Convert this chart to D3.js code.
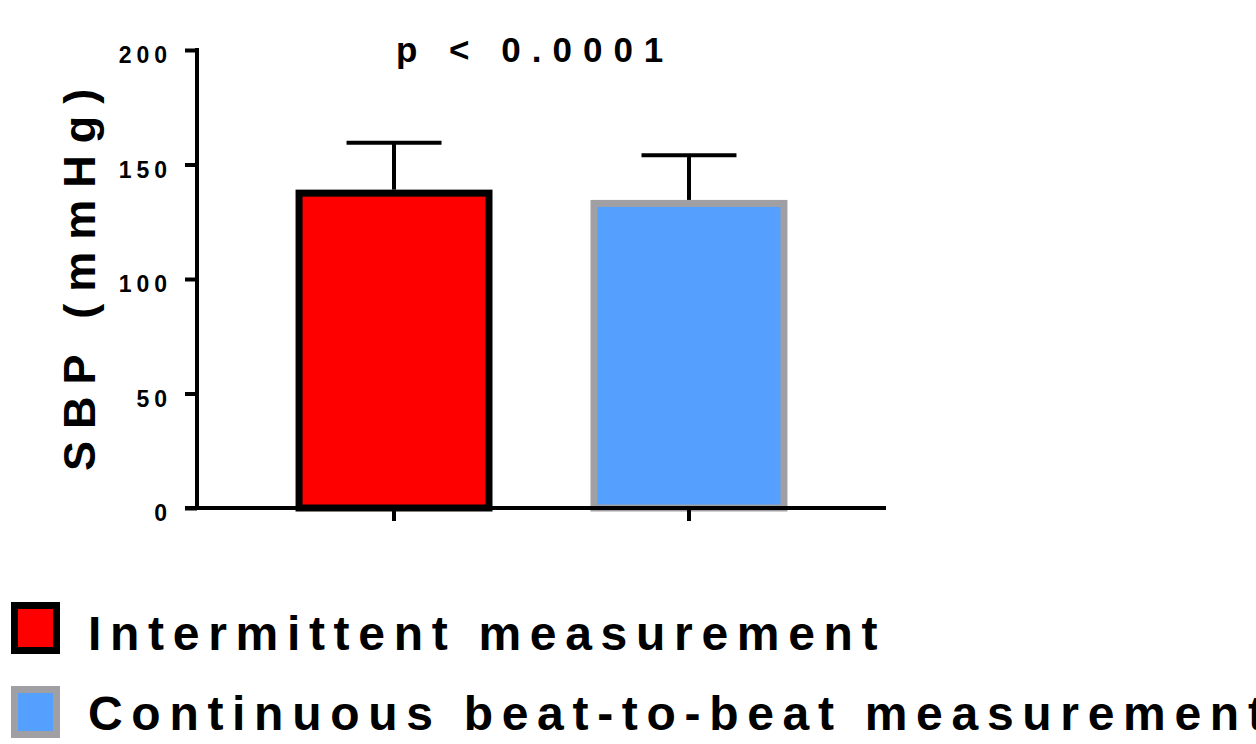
<!DOCTYPE html>
<html>
<head>
<meta charset="utf-8">
<script src="https://cdn.jsdelivr.net/npm/d3@7"></script>
<style>
  body { margin: 0; background: #fff; }
  text { font-family: "Liberation Sans", Arial, sans-serif; font-weight: bold; fill: #000; }
</style>
</head>
<body>
<script>
// data
const groups = ["Intermittent measurement", "Continuous beat-to-beat measurement"]
const means = [137.5, 133]
const sds = [22, 21]
const fills = ["#ff0000", "#55a0ff"]
const strokes = ["#000000", "#a0a0a4"]
const yTicks = [0, 50, 100, 150, 200]
const title = "p < 0.0001"
const yLabel = "SBP (mmHg)"

const width = 1256, height = 744

const svg = d3.select("body").append("svg")
  .attr("width", width)
  .attr("height", height)

const y = d3.scaleLinear().domain([0, 200]).range([508, 50])
const x = d3.scaleBand().domain(groups).range([197, 886])
  .paddingInner(0.356).paddingOuter(0.346)

// bars
svg.selectAll(".bar")
  .data(groups)
  .enter().append("rect")
    .attr("class", "bar")
    .attr("x", d => x(d))
    .attr("width", x.bandwidth())
    .attr("y", (d, i) => y(means[i]))
    .attr("height", (d, i) => y(0) - y(means[i]))
    .attr("fill", (d, i) => fills[i])
    .attr("stroke", (d, i) => strokes[i])
    .attr("stroke-width", 7)

// error bars (upper only)
const err = svg.selectAll(".err")
  .data(groups)
  .enter().append("g")
    .attr("class", "err")
    .attr("stroke", "#000")
    .attr("stroke-width", 4)

err.append("line")
  .attr("x1", d => x(d) + x.bandwidth() / 2)
  .attr("x2", d => x(d) + x.bandwidth() / 2)
  .attr("y1", (d, i) => y(means[i]) - 3.5)
  .attr("y2", (d, i) => y(means[i] + sds[i]))

err.append("line")
  .attr("x1", d => x(d) + x.bandwidth() / 2 - x.bandwidth() / 4)
  .attr("x2", d => x(d) + x.bandwidth() / 2 + x.bandwidth() / 4)
  .attr("y1", (d, i) => y(means[i] + sds[i]))
  .attr("y2", (d, i) => y(means[i] + sds[i]))

// y axis
const yAxis = svg.append("g")
  .attr("transform", "translate(197,0)")
  .call(d3.axisLeft(y).tickValues(yTicks).tickSize(12).tickSizeOuter(0).tickPadding(13))
  .attr("font-size", 23)
  .attr("font-family", null)
yAxis.select(".domain").attr("stroke-width", 4).attr("d", "M0,48V510")
yAxis.selectAll(".tick line").attr("stroke-width", 4)
yAxis.selectAll(".tick text")
  .attr("dy", "0.55em")
  .style("font-size", "23px")
  .style("letter-spacing", "5px")

// x axis
const xAxis = svg.append("g")
  .attr("transform", "translate(0,508)")
  .call(d3.axisBottom(x).tickSize(13).tickSizeOuter(0).tickFormat(""))
xAxis.select(".domain").attr("stroke-width", 4).attr("d", "M185,0H886")
xAxis.selectAll(".tick line").attr("stroke-width", 4)

// title
svg.append("text")
  .attr("x", 396)
  .attr("y", 62)
  .style("font-size", "35px")
  .style("letter-spacing", "11px")
  .text(title)

// y label
svg.append("text")
  .attr("transform", "translate(95,471) rotate(-90)")
  .style("font-size", "45px")
  .style("letter-spacing", "12px")
  .text(yLabel)

// legend
const leg = svg.selectAll(".leg")
  .data(groups)
  .enter().append("g")
    .attr("class", "leg")
    .attr("transform", (d, i) => `translate(0,${602 + i * 84})`)

leg.append("rect")
  .attr("x", 14.5)
  .attr("y", 3.5)
  .attr("width", 42)
  .attr("height", 45)
  .attr("fill", (d, i) => fills[i])
  .attr("stroke", (d, i) => strokes[i])
  .attr("stroke-width", 7)

leg.append("text")
  .attr("x", 88)
  .attr("y", (d, i) => 48 - i * 4)
  .style("font-size", "48px")
  .style("letter-spacing", "8.7px")
  .text(d => d)
</script>
</body>
</html>
